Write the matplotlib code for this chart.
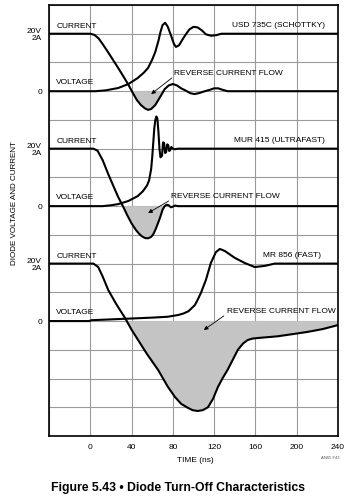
import numpy as np
import matplotlib
matplotlib.use("Agg")
import matplotlib.pyplot as plt

plt.rcParams['font.family'] = ['Liberation Sans', 'DejaVu Sans']
FS = 6.0

# time axis (ns) and grid
x_ticks = [0, 40, 80, 120, 160, 200, 240]

# each trace: time (ns) and value; current in A (1 div = 1 A), voltage in V (1 div = 10 V)
# --- USD 735C (SCHOTTKY)
sch_i_t = [-40, 0, 4, 8, 12, 17, 22, 27, 32, 37, 41, 45, 49, 53, 56, 59, 63, 66, 69, 72,
           76, 80, 84, 88, 92, 97, 101, 106, 111, 116, 120, 124, 128, 133, 240]
sch_i = [2, 2, 1.96, 1.84, 1.64, 1.37, 1.09, 0.81, 0.52, 0.22, -0.05, -0.3, -0.48, -0.6, -0.65,
         -0.62, -0.48, -0.3, -0.12, 0.07, 0.2, 0.25, 0.2, 0.1, 0.03, -0.07, -0.1, -0.06, 0.0,
         0.05, 0.1, 0.1, 0.05, 0.0, 0.0]
sch_v_t = [-40, 5, 15, 27, 37, 46, 52, 56, 60, 63, 66, 68, 70, 72.5, 75, 78, 81, 83, 86, 89,
           92, 96, 100, 104, 108, 112, 117, 122, 127, 240]
sch_v = [0, 0, 0.3, 1.1, 2.5, 4.6, 6.5, 8.1, 11, 13.7, 17.5, 20.6, 23, 23.8, 22.5, 19.6, 16.5,
         15.4, 16, 17.8, 19.5, 21.5, 22.4, 22.2, 21.2, 19.8, 19.3, 19.5, 20, 20]

# --- MUR 415 (ULTRAFAST)
uf_i_t = [-40, 3, 7, 12, 17, 22, 27, 32, 36, 40, 44, 47, 50, 53, 56, 59, 61, 63, 65, 67.5,
          70, 72, 74, 76, 78, 80, 82, 85, 240]
uf_i = [2, 2, 1.93, 1.6, 1.15, 0.73, 0.32, -0.03, -0.33, -0.6, -0.82, -0.95, -1.05, -1.11,
        -1.12, -1.07, -0.98, -0.83, -0.65, -0.41, -0.13, 0.0, 0.05, 0.03, -0.04, -0.02, 0.02,
        0.0, 0.0]
uf_v_t = [-40, 12, 20, 27, 37, 46, 51, 55, 57, 59, 60, 61, 62, 63, 64, 65, 66, 67, 68, 69.5,
          70.5, 71.5, 72.5, 73.5, 74.5, 75.5, 76.5, 77.5, 78.5, 80, 82, 85, 240]
uf_v = [0, 0, 0.3, 0.7, 1.8, 3.5, 5.2, 7.2, 9, 13, 17, 22, 27, 30, 31.2, 30.5, 26, 20, 17,
        17.5, 22.2, 22, 18.5, 18.8, 21.5, 21.2, 19.2, 19.5, 20.6, 20, 19.8, 20, 20]

# --- MR 856 (FAST)
fa_i_t = [-40, 3, 7.7, 12, 17.4, 25, 33.8, 40, 46.3, 55, 65.7, 75, 82, 88, 94.6, 99, 104, 109,
          114, 119, 123.6, 128, 133, 138, 143, 148, 152.5, 157, 162, 172, 181.5, 195, 210,
          225, 240]
fa_i = [2, 2, 1.88, 1.55, 1.08, 0.6, 0.1, -0.3, -0.66, -1.15, -1.7, -2.28, -2.64, -2.88, -3.02,
        -3.1, -3.13, -3.1, -3.0, -2.7, -2.3, -2.0, -1.7, -1.35, -1.0, -0.78, -0.66, -0.61,
        -0.59, -0.56, -0.53, -0.46, -0.38, -0.28, -0.14]
fa_v_t = [-40, -1, 1, 34, 60, 75, 85, 90, 95, 98, 101.4, 104, 107.2, 112, 116.8, 121.7, 125.5,
          130.3, 140, 149.7, 159.3, 169, 178.6, 240]
fa_v = [0, 0, 0.3, 0.8, 1.2, 1.5, 2.1, 2.6, 3.4, 4.4, 5.6, 7.4, 9.8, 14.3, 20.2, 24, 25.1,
        24.4, 22, 20.2, 18.8, 19.2, 20, 20]

panels = [
    ("USD 735C (SCHOTTKY)", sch_i_t, sch_i, sch_v_t, sch_v),
    ("MUR 415 (ULTRAFAST)", uf_i_t, uf_i, uf_v_t, uf_v),
    ("MR 856 (FAST)", fa_i_t, fa_i, fa_v_t, fa_v),
]
zero_levels = [12, 8, 4]          # grid division of each panel's 0 line
shade_until = [75, 72, 240]       # reverse-current shading limit (ns)
arrows = [((79, 12.46), (59, 11.9), (81, 12.6)),
          ((76, 8.18), (56, 7.76), (78, 8.32)),
          ((129.4, 4.18), (110, 3.69), (132, 4.35))]
name_x = [227, 227, 224]

W, H = 355, 500
fig = plt.figure(figsize=(W / 100, H / 100), dpi=100)
ax = fig.add_axes([49 / W, 1 - 436 / H, (338 - 49) / W, (436 - 5) / H])
ax.set_xlim(-40, 240)
ax.set_ylim(0, 15)

ax.set_xticks([-40] + x_ticks)
ax.set_xticklabels([''] + [str(v) for v in x_ticks], fontsize=FS)
ax.set_yticks(range(16))
ylab = [''] * 16
for lvl in zero_levels:
    ylab[lvl] = '0'
    ylab[lvl + 2] = '20V\n2A'
ax.set_yticklabels(ylab, fontsize=FS, linespacing=1.05)
ax.tick_params(axis='x', length=0, pad=6)
ax.tick_params(axis='y', length=0, pad=5)
ax.grid(True, color='#9a9a9a', lw=0.8)
for s in ax.spines.values():
    s.set_linewidth(1.2)

# reverse-current shading first, under everything else
for k, (name, it, iv, vt, vv) in enumerate(panels):
    z = zero_levels[k]
    t = np.array(it, float)
    iy = z + np.array(iv, float)
    mask = t <= shade_until[k]
    ax.fill_between(t[mask], np.minimum(iy[mask], z), z,
                    facecolor='#c4c4c4', edgecolor='none', zorder=2)

for k, (name, it, iv, vt, vv) in enumerate(panels):
    z = zero_levels[k]
    iy = z + np.array(iv, float)
    vy = z + np.array(vv, float) / 10.0
    ax.plot(it, iy, color='black', lw=1.5, zorder=3)
    ax.plot(vt, vy, color='black', lw=1.5, zorder=3)
    ax.text(-32.8, z + 2.26, 'CURRENT', fontsize=FS, va='center', ha='left')
    ax.text(-32.8, z + 0.3, 'VOLTAGE', fontsize=FS, va='center', ha='left')
    ax.text(name_x[k], z + 2.28, name, fontsize=FS, va='center', ha='right')
    tail, head, txt = arrows[k]
    ax.text(txt[0], txt[1], 'REVERSE CURRENT FLOW', fontsize=FS, va='center', ha='left')
    ax.annotate('', xy=head, xytext=tail,
                arrowprops=dict(arrowstyle='-|>', color='black', lw=0.6,
                                mutation_scale=6, shrinkA=0, shrinkB=0))

fig.text(195 / W, 1 - 461 / H, 'TIME (ns)', fontsize=FS, ha='center', va='center')
fig.text(15 / W, 1 - 203 / H, 'DIODE VOLTAGE AND CURRENT', fontsize=5.8, rotation=90,
         ha='center', va='center')
fig.text(330 / W, 1 - 458 / H, 'AN65 F43', fontsize=3, ha='center', va='center', color='#555555')
fig.text(178 / W, 1 - 488 / H, 'Figure 5.43 \u2022 Diode Turn-Off Characteristics',
         fontsize=8.8, fontweight='bold', ha='center', va='center')

fig.savefig('out.png', dpi=100)
